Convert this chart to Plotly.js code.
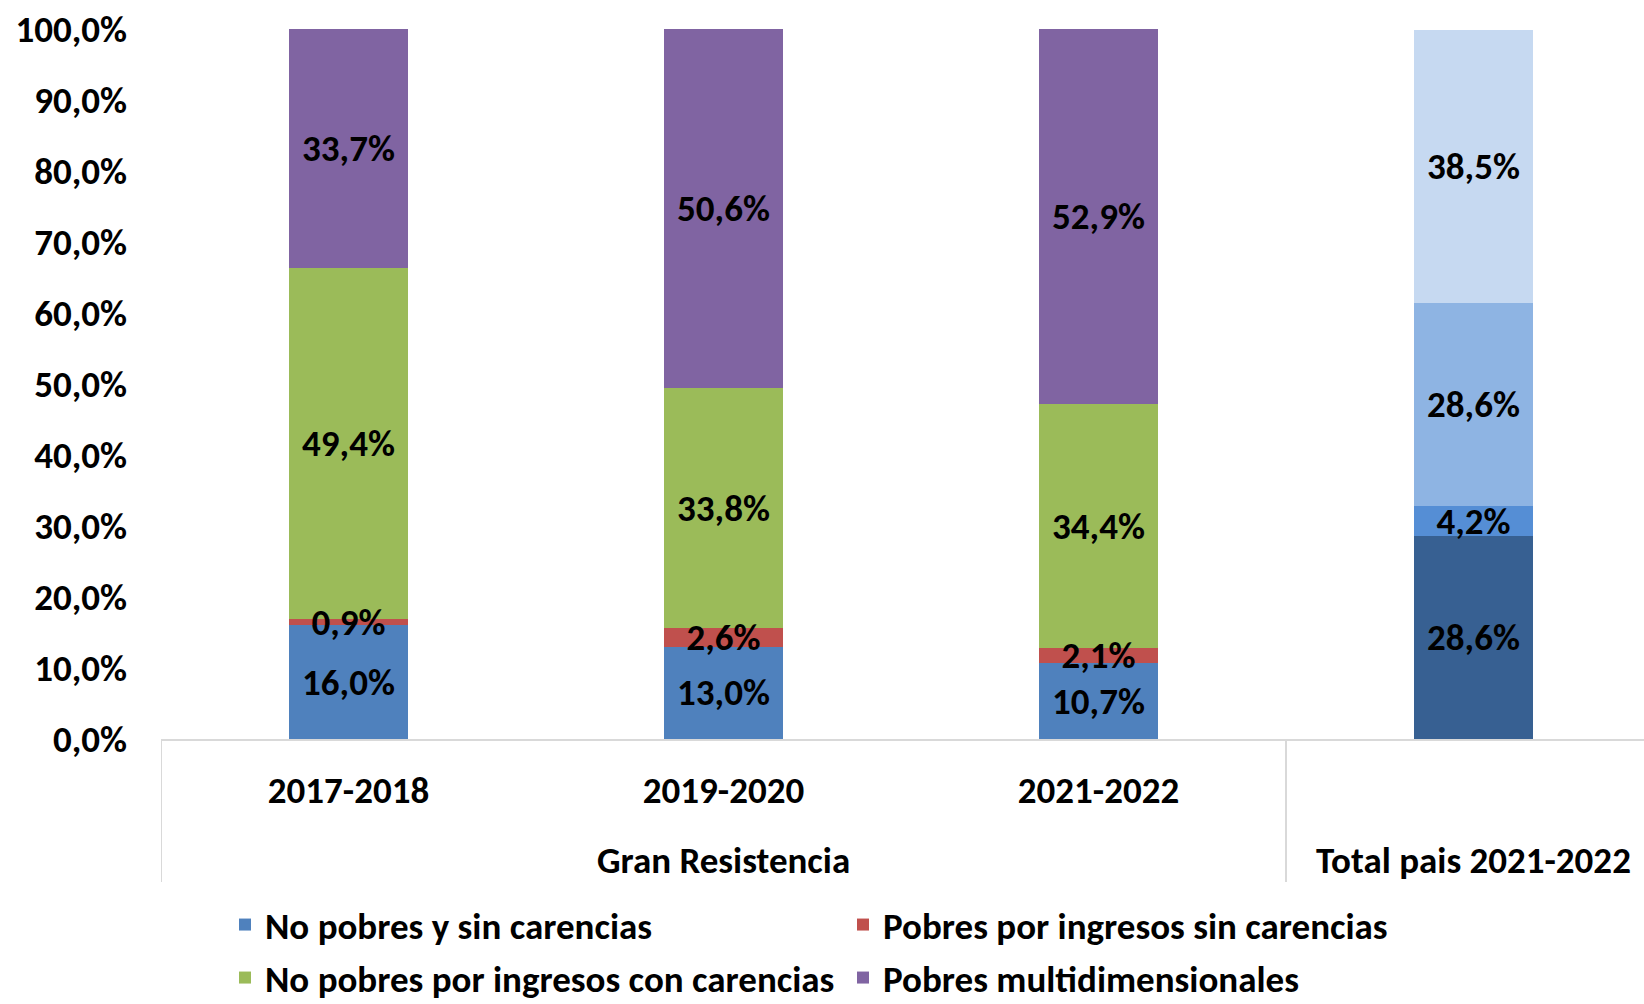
<!DOCTYPE html>
<html><head><meta charset="utf-8">
<script src="https://cdn.plot.ly/plotly-3.0.1.min.js"></script>
<style>html,body{margin:0;padding:0;background:#fff}#chart{width:1644px;height:1004px}</style>
</head><body><div id="chart"></div>
<script>
// ---- data ----
const categories = ["2017-2018", "2019-2020", "2021-2022", "Total pais 2021-2022"];
const tickLabels = ["2017-2018", "2019-2020", "2021-2022", ""];
const groupLabels = ["Gran Resistencia", "Total pais 2021-2022"];
const groupCenters = ["2019-2020", "Total pais 2021-2022"];
const seriesNames = ["No pobres y sin carencias", "Pobres por ingresos sin carencias",
                     "No pobres por ingresos con carencias", "Pobres multidimensionales"];
const noPobresSinCarencias = [16.0, 13.0, 10.7, 28.6];
const pobresIngresosSinCarencias = [0.9, 2.6, 2.1, 4.2];
const noPobresConCarencias = [49.4, 33.8, 34.4, 28.6];
const pobresMultidimensionales = [33.7, 50.6, 52.9, 38.5];
const yTickValues = [0, 10, 20, 30, 40, 50, 60, 70, 80, 90, 100];

// ---- styles ----
const seriesColors = [
  ["#4F81BD", "#4F81BD", "#4F81BD", "#376092"],
  ["#C0504D", "#C0504D", "#C0504D", "#558ED5"],
  ["#9BBB59", "#9BBB59", "#9BBB59", "#8EB4E3"],
  ["#8064A2", "#8064A2", "#8064A2", "#C6D9F1"]
];
const FAMILY = "Carlito, Lato, 'Open Sans', sans-serif";
const FS = 37;
const F = (size) => ({family: FAMILY, size: size, color: "#000", weight: 700});
const fmt = v => v.toFixed(1).replace(".", ",") + "%";

const allSeries = [noPobresSinCarencias, pobresIngresosSinCarencias, noPobresConCarencias, pobresMultidimensionales];
const legendOf = ["legend", "legend", "legend2", "legend2"];

// coloured bars
const barTraces = allSeries.map((vals, i) => ({
  type: "bar",
  name: seriesNames[i],
  x: categories,
  y: vals,
  marker: {color: seriesColors[i], line: {width: 0}},
  legend: legendOf[i],
  hoverinfo: "skip"
}));
// identical transparent stack on an overlaid axis pair, carrying the labels on top of all bars
const labelTraces = allSeries.map((vals, i) => ({
  type: "bar",
  name: seriesNames[i],
  x: categories,
  y: vals,
  xaxis: "x2", yaxis: "y2",
  text: vals.map(fmt),
  textposition: "inside",
  insidetextanchor: "middle",
  constraintext: "none",
  textangle: 0,
  insidetextfont: F(FS),
  marker: {color: "rgba(0,0,0,0)", line: {width: 0}},
  showlegend: false,
  hoverinfo: "skip"
}));

const plotTop = 29, plotBottom = 739, plotH = plotBottom - plotTop;
const toPaperY = px => (plotBottom - px) / plotH;
const xRange = [-0.5, 3.5 - 17 / 375];

const layout = {
  width: 1644, height: 1004,
  margin: {l: 161, r: 0, t: plotTop, b: 1004 - plotBottom, pad: 0, autoexpand: false},
  paper_bgcolor: "#fff", plot_bgcolor: "#fff",
  barmode: "stack",
  bargap: 0.685,
  separators: ",.",
  font: F(FS),
  hovermode: false,
  xaxis: {
    type: "category",
    range: xRange,
    tickvals: categories,
    ticktext: tickLabels,
    tickfont: F(FS),
    ticks: "",
    ticklabelstandoff: 18,
    showline: true, linecolor: "#D9D9D9", linewidth: 2,
    showgrid: false, zeroline: false, fixedrange: true, automargin: false
  },
  yaxis: {
    range: [0, 100],
    tickvals: yTickValues,
    ticktext: yTickValues.map(fmt),
    tickfont: F(FS),
    ticks: "",
    ticklabelstandoff: 33,
    showline: false, showgrid: false, zeroline: false, fixedrange: true, automargin: false
  },
  xaxis2: {type: "category", overlaying: "x", range: xRange, visible: false, fixedrange: true},
  yaxis2: {overlaying: "y", range: [0, 100], visible: false, fixedrange: true},
  annotations: groupLabels.map((t, i) => ({
    text: t, x: groupCenters[i], xref: "x", y: toPaperY(860), yref: "paper",
    showarrow: false, xanchor: "center", yanchor: "middle", font: F(FS)
  })),
  shapes: [-0.5, 2.5].map(xv => ({
    type: "line", xref: "x", yref: "paper", x0: xv, x1: xv,
    y0: 0, y1: toPaperY(882), line: {color: "#D9D9D9", width: 2}
  })),
  showlegend: true,
  legend: {
    orientation: "h", traceorder: "normal", x: (225 - 161) / 1483, xanchor: "left",
    y: toPaperY(925), yanchor: "middle",
    entrywidth: 573, entrywidthmode: "pixels",
    font: F(FS), bgcolor: "rgba(0,0,0,0)", itemclick: false, itemdoubleclick: false
  },
  legend2: {
    orientation: "h", traceorder: "normal", x: (225 - 161) / 1483, xanchor: "left",
    y: toPaperY(978), yanchor: "middle",
    entrywidth: 573, entrywidthmode: "pixels",
    font: F(FS), bgcolor: "rgba(0,0,0,0)", itemclick: false, itemdoubleclick: false
  }
};

Plotly.newPlot("chart", barTraces.concat(labelTraces), layout, {displayModeBar: false, staticPlot: true});
</script>
</body></html>
